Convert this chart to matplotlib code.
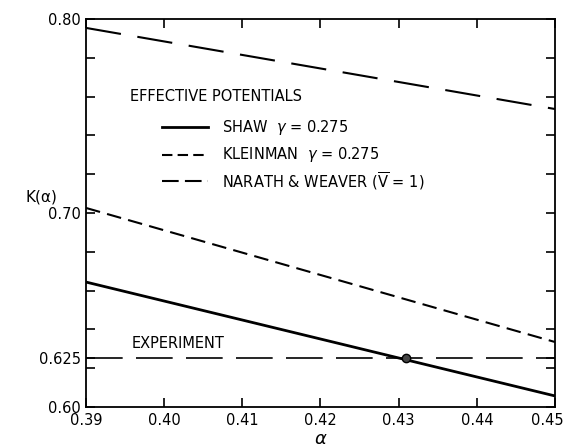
import numpy as np
import matplotlib.pyplot as plt
from matplotlib.transforms import ScaledTranslation

# alpha range and line end values
alpha = [0.39, 0.45]
shaw = [0.6644, 0.6057]
kleinman = [0.7026, 0.6335]
narath = [0.7954, 0.7536]
experiment = 0.625
cross_alpha = 0.431

xticks = [0.39, 0.40, 0.41, 0.42, 0.43, 0.44, 0.45]
xlabels = ["0.39", "0.40", "0.41", "0.42", "0.43", "0.44", "0.45"]
yticks = [0.60, 0.625, 0.70, 0.80]
ylabels = ["0.60", "0.625", "0.70", "0.80"]
yminor = [0.62, 0.64, 0.66, 0.68, 0.72, 0.74, 0.76, 0.78]

plt.rcParams['font.family'] = ['DejaVu Sans']

fig = plt.figure(figsize=(5.64, 4.47), dpi=100)
ax = fig.add_axes([0.1525, 0.0895, 0.8315, 0.868])

ax.plot(alpha, shaw, color='black', lw=2.0, solid_capstyle='butt')
ax.plot(alpha, kleinman, color='black', lw=1.5, dashes=(7, 3.5))
ax.plot(alpha, narath, color='black', lw=1.5, dashes=(17, 8))
ax.plot(alpha, [experiment, experiment], color='black', lw=1.2, dashes=(22, 8))
ax.plot([cross_alpha], [experiment], 'o', color='black', ms=6, mfc='#444444')

ax.set_xlim(0.39, 0.45)
ax.set_ylim(0.60, 0.80)
ax.set_xticks(xticks)
ax.set_xticklabels(xlabels)
ax.set_yticks(yticks)
ax.set_yticklabels(ylabels)
ax.set_yticks(yminor, minor=True)

ax.tick_params(which='both', direction='in', top=True, right=True,
               length=6.5, width=1.2, labelsize=10.5)
ax.tick_params(axis='x', pad=4)
for s in ax.spines.values():
    s.set_linewidth(1.3)

# keep the last x label inside the picture
last = ax.get_xticklabels()[-1]
last.set_transform(last.get_transform() + ScaledTranslation(-8 / 100, 0, fig.dpi_scale_trans))

ax.text(-0.06, 0.54, "K(α)", transform=ax.transAxes, fontsize=11,
        ha='right', va='center')
ax.set_xlabel("α", fontsize=13, style='italic', labelpad=2)

# legend drawn by hand, like in the original figure
ax.text(0.3956, 0.7598, "EFFECTIVE POTENTIALS", fontsize=10.5, va='center')
rows = [0.7443, 0.7299, 0.7165]
labels = ["SHAW  $\\gamma$ = 0.275", "KLEINMAN  $\\gamma$ = 0.275",
          "NARATH & WEAVER ($\\overline{\\mathrm{V}}$ = 1)"]
styles = [dict(lw=2.0), dict(lw=1.5, dashes=(5, 2.5)), dict(lw=1.5, dashes=(8, 3))]
for y, lab, st in zip(rows, labels, styles):
    ax.plot([0.3997, 0.4056], [y, y], color='black', **st)
    ax.text(0.4074, y, lab, fontsize=10.5, va='center')

ax.text(0.3959, 0.6325, "EXPERIMENT", fontsize=10.5, va='center')

fig.savefig("out.png", dpi=100)
